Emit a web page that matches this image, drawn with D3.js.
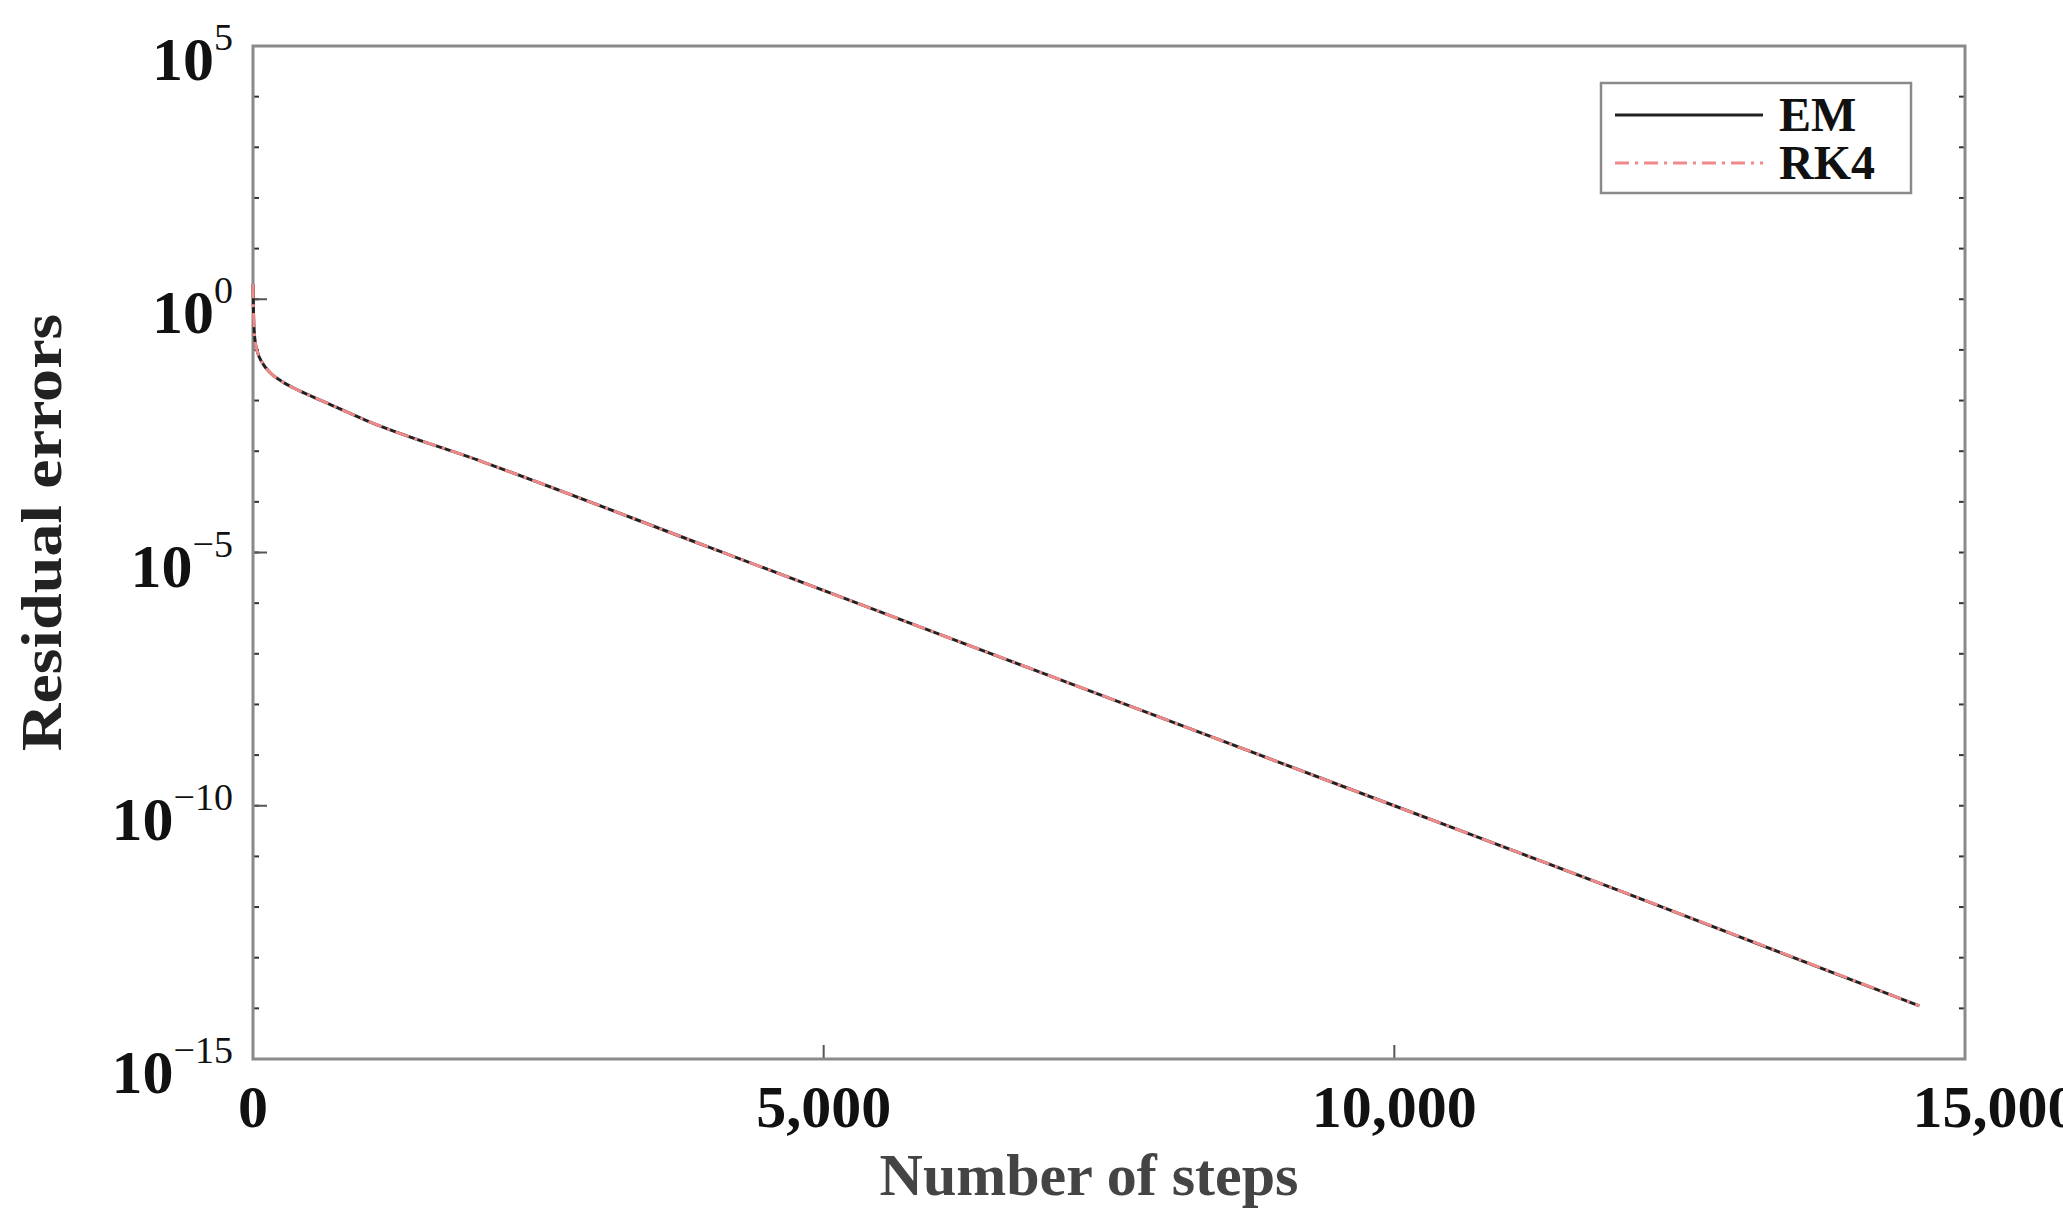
<!DOCTYPE html>
<html><head><meta charset="utf-8">
<script src="https://cdn.jsdelivr.net/npm/d3@7"></script>
<style>body{margin:0;background:#fff}text{font-family:"Liberation Serif",serif;font-weight:bold}</style>
</head><body>
<script>
// values (log10 of the residual error)
const steps = [0, 5, 10, 20, 40, 80, 150, 250, 400, 600, 1000, 2000, 4000, 6000, 8000, 10000, 12000, 14600];
const emLog = [0.3, -0.3, -0.6, -0.85, -1.05, -1.25, -1.45, -1.62, -1.8, -2.0, -2.4, -3.2, -4.9, -6.6, -8.3, -10.0, -11.7, -13.95];
const rk4Log = emLog.slice();
const yTicks = [1e5, 1e0, 1e-5, 1e-10, 1e-15];
const yTickLabels = ['5', '0', '\u22125', '\u221210', '\u221215'];
const xTicks = [0, 5000, 10000, 15000];

const margin = {top: 46, right: 98, bottom: 171, left: 253},
  width = 2063 - margin.left - margin.right,
  height = 1230 - margin.top - margin.bottom;

const x = d3.scaleLinear().domain([0, 15000]).range([0, width]);
const y = d3.scaleLog().domain([1e-15, 1e5]).range([height, 0]);

const svg = d3.select('body').append('svg')
  .attr('width', 2063).attr('height', 1230)
  .append('g').attr('transform', `translate(${margin.left},${margin.top})`);

// minor decade ticks, inward
const decades = d3.range(-15, 6).map(e => Math.pow(10, e));
svg.selectAll('.ml').data(decades).enter().append('line')
  .attr('x1', 0).attr('x2', 6).attr('y1', d => y(d)).attr('y2', d => y(d))
  .attr('stroke', '#333').attr('stroke-width', 2);
svg.selectAll('.mr').data(decades).enter().append('line')
  .attr('x1', width).attr('x2', width - 6).attr('y1', d => y(d)).attr('y2', d => y(d))
  .attr('stroke', '#333').attr('stroke-width', 2);
svg.selectAll('.yt').data(yTicks).enter().append('line')
  .attr('x1', 0).attr('x2', 14).attr('y1', d => y(d)).attr('y2', d => y(d))
  .attr('stroke', '#555').attr('stroke-width', 2);
svg.selectAll('.xt').data(xTicks).enter().append('line')
  .attr('x1', d => x(d)).attr('x2', d => x(d)).attr('y1', height).attr('y2', height - 14)
  .attr('stroke', '#555').attr('stroke-width', 2);

// frame
svg.append('rect').attr('width', width).attr('height', height)
  .attr('fill', 'none').attr('stroke', '#8a8a8a').attr('stroke-width', 3);

// y tick labels: 10 with superscript
const yl = svg.selectAll('.yl').data(yTicks).enter().append('text')
  .attr('x', -20).attr('y', d => y(d) + 34).attr('text-anchor', 'end')
  .style('font-size', '62px').attr('fill', '#111');
yl.append('tspan').text('10');
yl.append('tspan').attr('dy', -30).style('font-size', '38px').style('font-weight', 'normal')
  .text((d, i) => yTickLabels[i]);

svg.selectAll('.xl').data(xTicks).enter().append('text')
  .attr('x', (d, i) => x(d) + (i === 3 ? 30 : 0)).attr('y', height + 68).attr('text-anchor', 'middle')
  .style('font-size', '60px').attr('fill', '#111')
  .text(d => d3.format(',')(d));

svg.append('text').attr('x', width / 2 - 20).attr('y', height + 136).attr('text-anchor', 'middle')
  .style('font-size', '60px').attr('fill', '#444').text('Number of steps');
svg.append('text').attr('transform', 'rotate(-90) scale(1.18,1)')
  .attr('x', (-height / 2 + 20) / 1.18).attr('y', -192).attr('text-anchor', 'middle')
  .style('font-size', '56px').attr('fill', '#222').text('Residual errors');

const line = d3.line().x((d, i) => x(steps[i])).y(d => y(Math.pow(10, d))).curve(d3.curveMonotoneX);
svg.append('path').attr('d', line(emLog)).attr('fill', 'none')
  .attr('stroke', '#222').attr('stroke-width', 3);
svg.append('path').attr('d', line(rk4Log)).attr('fill', 'none')
  .attr('stroke', '#f08a8a').attr('stroke-width', 3).attr('stroke-dasharray', '14,6,3,6');

// legend
const lg = svg.append('g').attr('transform', `translate(${1601 - margin.left},${83 - margin.top})`);
lg.append('rect').attr('width', 310).attr('height', 110).attr('fill', '#fff')
  .attr('stroke', '#8a8a8a').attr('stroke-width', 2.5);
const items = [['EM', '#222', null], ['RK4', '#f08a8a', '14,6,3,6']];
items.forEach((it, i) => {
  const cy = 32 + i * 48;
  lg.append('line').attr('x1', 14).attr('x2', 162).attr('y1', cy).attr('y2', cy)
    .attr('stroke', it[1]).attr('stroke-width', 3).attr('stroke-dasharray', it[2]);
  lg.append('text').attr('x', 178).attr('y', cy + 16).style('font-size', '48px')
    .attr('fill', '#111').text(it[0]);
});
</script>
</body></html>
